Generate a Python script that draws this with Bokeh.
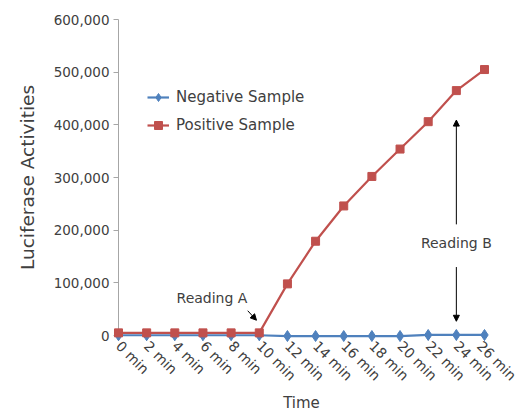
from bokeh.plotting import figure
from bokeh.models import (Range1d, FixedTicker, NumeralTickFormatter, Legend, LegendItem,
                          Arrow, NormalHead)
from bokeh.core.properties import value
from bokeh.embed import file_html
from bokeh.resources import INLINE
import math

times = ["0 min", "2 min", "4 min", "6 min", "8 min", "10 min", "12 min", "14 min",
         "16 min", "18 min", "20 min", "22 min", "24 min", "26 min"]
negative = [500, 500, 500, 500, 500, 500, -1000, -1000, -1000, -1000, -1000, 1000, 1000, 1000]
positive = [5000, 5000, 5000, 5000, 5000, 5000, 98000, 179000, 246000, 302000, 354000,
            406000, 465000, 505000]
y_ticks = [0, 100000, 200000, 300000, 400000, 500000, 600000]

FONT = "DejaVu Sans"
TXT = "#404040"
AX = "#A6A6A6"
BLUE = "#4F81BD"
RED = "#C0504D"

xs = list(range(len(times)))

p = figure(width=519, height=415, output_backend="svg", toolbar_location=None,
           x_range=Range1d(0, len(times) - 1),
           y_range=Range1d(0, 600000),
           min_border_left=118, min_border_right=35, min_border_top=19, min_border_bottom=78)
p.outline_line_color = None
p.xgrid.grid_line_color = None
p.ygrid.grid_line_color = None

# axes
xa = p.xaxis[0]
xa.ticker = FixedTicker(ticks=xs)
xa.major_label_overrides = {i: t for i, t in enumerate(times)}
xa.major_label_orientation = -math.pi / 4
xa.minor_tick_line_color = None
xa.major_tick_in = 0
xa.major_tick_out = 5
xa.axis_line_color = AX
xa.major_tick_line_color = AX
xa.major_label_text_font = FONT
xa.major_label_text_font_size = "14px"
xa.major_label_text_color = TXT
xa.major_label_standoff = 3
xa.axis_label = "Time"
xa.axis_label_text_font = FONT
xa.axis_label_text_font_style = "normal"
xa.axis_label_text_font_size = "15px"
xa.axis_label_text_color = TXT
xa.axis_label_standoff = 2

ya = p.yaxis[0]
ya.ticker = FixedTicker(ticks=y_ticks)
ya.formatter = NumeralTickFormatter(format="0,0")
ya.minor_tick_line_color = None
ya.major_tick_in = 0
ya.major_tick_out = 5
ya.axis_line_color = AX
ya.major_tick_line_color = AX
ya.major_label_text_font = FONT
ya.major_label_text_font_size = "13.5px"
ya.major_label_text_color = TXT
ya.major_label_standoff = 4
ya.axis_label = "Luciferase Activities"
ya.axis_label_text_font = FONT
ya.axis_label_text_font_style = "normal"
ya.axis_label_text_font_size = "18.5px"
ya.axis_label_text_color = TXT
ya.axis_label_standoff = 13

# series (overlay level so markers on the frame edges are not clipped)
nl = p.line(xs, negative, line_color=BLUE, line_width=2.2, level="overlay")
ns = p.scatter(xs, negative, marker="diamond", size=11, fill_color=BLUE, line_color=BLUE,
               level="overlay")
pl = p.line(xs, positive, line_color=RED, line_width=2.2, level="overlay")
ps = p.scatter(xs, positive, marker="square", size=8, fill_color=RED, line_color=RED,
               level="overlay")

legend = Legend(items=[LegendItem(label="Negative Sample", renderers=[nl, ns]),
                       LegendItem(label="Positive Sample", renderers=[pl, ps])],
                location=(29, 200), background_fill_alpha=0, border_line_color=None,
                label_text_font=FONT, label_text_font_size="15px", label_text_color=TXT,
                glyph_width=22, glyph_height=20, label_height=20, spacing=8, padding=0,
                margin=0, label_standoff=7)
p.add_layout(legend)

# annotations
def arrow(x0, y0, x1, y1):
    p.add_layout(Arrow(end=NormalHead(size=6, fill_color="black", line_color="black"),
                       x_start=x0, y_start=y0, x_end=x1, y_end=y1,
                       line_color="black", line_width=1, level="overlay"))

arrow(4.59, 47000, 4.90, 29000)
arrow(12, 211000, 12, 409000)
arrow(12, 130000, 12, 27000)

note_x = [3.32, 12]
note_y = [71000, 175000]
note_text = ["Reading A", "Reading B"]
p.text(x=note_x, y=note_y, text=note_text, text_font=value(FONT), text_font_size="14px",
       text_color=TXT, text_align="center", text_baseline="middle", level="overlay")

open("out.html", "w").write(file_html(p, INLINE))
